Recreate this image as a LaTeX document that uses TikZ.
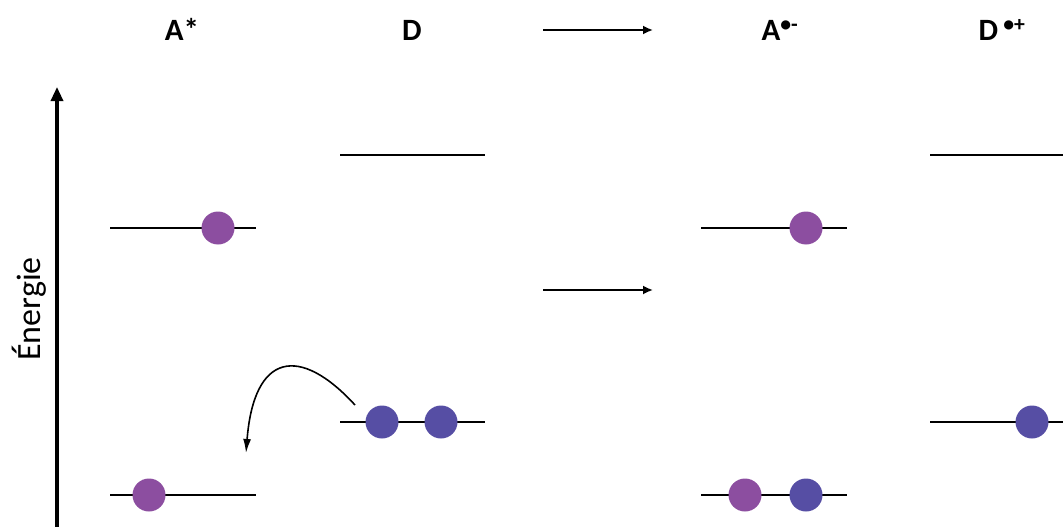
\documentclass[tikz,border=0pt]{standalone}
\usepackage{fontspec}
\setmainfont{Carlito}
\usetikzlibrary{arrows.meta}
\definecolor{epurple}{RGB}{140,78,160}
\definecolor{eblue}{RGB}{86,78,164}
\tikzset{
  level/.style={line width=2.6pt},
  elec/.style={circle, inner sep=0pt, minimum size=33pt, fill=#1},
  title/.style={font=\bfseries\fontsize{31}{34}\selectfont, anchor=base},
  thinarrow/.style={line width=1.8pt, -{Latex[length=10pt,width=9pt]}},
}
\begin{document}
\begin{tikzpicture}[x=1pt,y=-1pt]
\useasboundingbox (0,0) rectangle (1063,527);
% axis
\coordinate (axb) at (57,528);
\coordinate (axt) at (57,87);
\draw[line width=3.2pt, -{Triangle[length=14pt,width=12pt]}] (axb) -- (axt);
\node[rotate=90, font=\fontsize{34}{38}\selectfont] (en) at (29,309) {Énergie};
% titles
\node[title] (tA) at (182,41) {A*};
\node[title] (tD) at (412,41) {D};
\node[title] (tAm) at (780,41) {A\textsuperscript{•-}};
\node[title] (tDp) at (1002,41) {D\,\textsuperscript{•+}};
% horizontal arrows
\coordinate (h1a) at (543,30); \coordinate (h1b) at (653,30);
\coordinate (h2a) at (543,290); \coordinate (h2b) at (653,290);
\draw[thinarrow] (h1a) -- (h1b);
\draw[thinarrow] (h2a) -- (h2b);
% levels
\coordinate (a1l) at (110,228); \coordinate (a1r) at (256,228);
\coordinate (a2l) at (110,495); \coordinate (a2r) at (256,495);
\coordinate (d1l) at (340,155); \coordinate (d1r) at (485,155);
\coordinate (d2l) at (340,422); \coordinate (d2r) at (485,422);
\coordinate (m1l) at (701,228); \coordinate (m1r) at (847,228);
\coordinate (m2l) at (701,495); \coordinate (m2r) at (847,495);
\coordinate (p1l) at (930,155); \coordinate (p1r) at (1063,155);
\coordinate (p2l) at (930,422); \coordinate (p2r) at (1063,422);
\foreach \n in {a1,a2,d1,d2,m1,m2,p1,p2}
  \draw[level] (\n l) -- (\n r);
% electrons
\node[elec=epurple] (e1) at (218,228) {};
\node[elec=epurple] (e2) at (149,495) {};
\node[elec=eblue] (e3) at (382,422) {};
\node[elec=eblue] (e4) at (441,422) {};
\node[elec=epurple] (e5) at (806,228) {};
\node[elec=epurple] (e6) at (745,495) {};
\node[elec=eblue] (e7) at (806,495) {};
\node[elec=eblue] (e8) at (1032,422) {};
% curved arrow
\coordinate (cs) at (355,405);
\coordinate (ce) at (246,453);
\draw[line width=1.6pt, -{Latex[length=14pt,width=8pt]}] (cs) .. controls (300,345) and (254,352) .. (ce);
\end{tikzpicture}
\end{document}
